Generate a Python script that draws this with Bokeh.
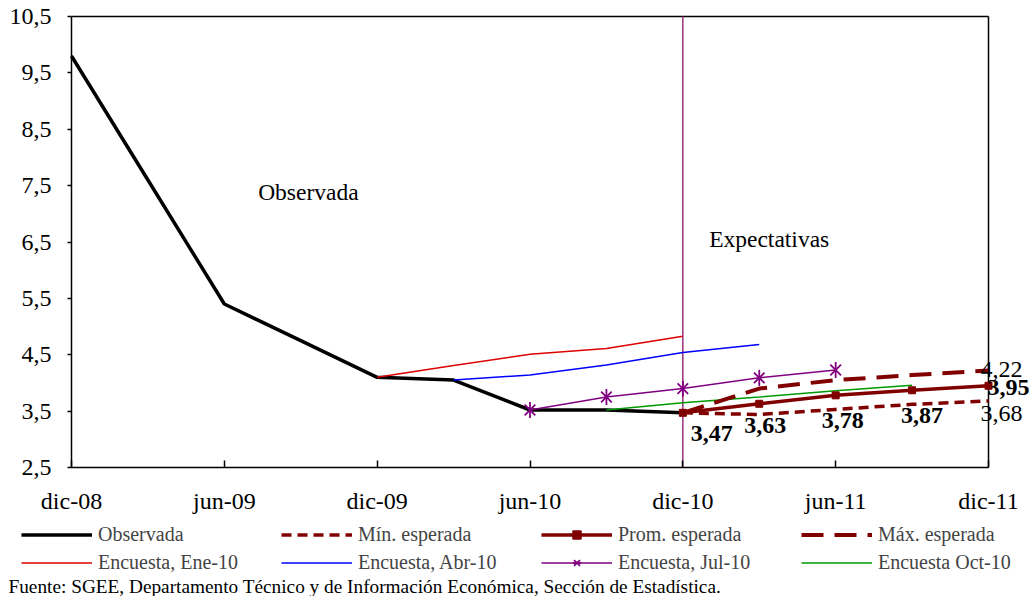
import math
from bokeh.plotting import figure
from bokeh.models import Range1d, FixedTicker, Label, Legend, LegendItem
from bokeh.embed import file_html
from bokeh.resources import INLINE

FONT = "Liberation Serif"

# quarters indexed from dic-08 (0) to dic-11 (12)
x_tick_pos = [0, 2, 4, 6, 8, 10, 12]
x_tick_labels = ["dic-08", "jun-09", "dic-09", "jun-10", "dic-10", "jun-11", "dic-11"]
y_ticks = [2.5, 3.5, 4.5, 5.5, 6.5, 7.5, 8.5, 9.5, 10.5]
y_tick_labels = ["2,5", "3,5", "4,5", "5,5", "6,5", "7,5", "8,5", "9,5", "10,5"]

obs_x = [0, 1, 2, 3, 4, 5, 6, 7, 8]
obs_y = [9.80, 7.60, 5.40, 4.75, 4.10, 4.05, 3.52, 3.52, 3.47]

ene_x = [4, 5, 6, 7, 8]
ene_y = [4.10, 4.31, 4.51, 4.61, 4.83]
abr_x = [5, 6, 7, 8, 9]
abr_y = [4.05, 4.14, 4.32, 4.54, 4.68]
jul_x = [6, 7, 8, 9, 10]
jul_y = [3.52, 3.75, 3.90, 4.09, 4.23]
oct_x = [7, 8, 9, 10, 11]
oct_y = [3.52, 3.65, 3.75, 3.86, 3.96]

exp_x = [8, 9, 10, 11, 12]
prom_y = [3.47, 3.63, 3.78, 3.87, 3.95]
min_y = [3.47, 3.44, 3.53, 3.62, 3.68]
max_y = [3.47, 3.90, 4.05, 4.14, 4.22]

divider_x = 8  # dic-10: start of expectations

footer = "Fuente: SGEE, Departamento Técnico y de Información Económica, Sección de Estadística."

W, H = 1030, 596
# plot box in pixels: x 71..988, y 16..467
PX_L, PX_R, PY_T, PY_B = 71, 988, 16, 467
x0, x1 = x_tick_pos[0], x_tick_pos[-1]
y0, y1 = y_ticks[0], y_ticks[-1]
sx = (PX_R - PX_L) / (x1 - x0)
sy = (PY_B - PY_T) / (y1 - y0)

p = figure(width=W, height=H, output_backend="svg", toolbar_location=None,
           x_range=Range1d(x0 - PX_L / sx, x1 + (W - PX_R) / sx),
           y_range=Range1d(y0 - (H - PY_B) / sy, y1 + PY_T / sy),
           min_border_left=0, min_border_right=0, min_border_top=0, min_border_bottom=0)
p.xgrid.visible = False
p.ygrid.visible = False
p.outline_line_color = None
p.background_fill_color = "white"
p.border_fill_color = "white"

for ax in (p.xaxis[0], p.yaxis[0]):
    ax.axis_line_width = 1.5
    ax.major_tick_line_width = 1.5
    ax.minor_tick_line_color = None
    ax.major_label_text_font = FONT
    ax.major_label_text_font_size = "24px"
    ax.major_label_text_color = "black"

p.xaxis.fixed_location = y0
p.xaxis.bounds = (x0, x1)
p.xaxis.ticker = FixedTicker(ticks=x_tick_pos)
p.xaxis.major_label_overrides = dict(zip(x_tick_pos, x_tick_labels))
p.xaxis.major_tick_in = 7
p.xaxis.major_tick_out = 0
p.xaxis.major_label_standoff = 20

p.yaxis.fixed_location = x0
p.yaxis.bounds = (y0, y1)
p.yaxis.ticker = FixedTicker(ticks=y_ticks)
p.yaxis.major_label_overrides = dict(zip(y_ticks, y_tick_labels))
p.yaxis.major_tick_in = 0
p.yaxis.major_tick_out = 4
p.yaxis.major_label_standoff = 16

# plot box top / right border and the expectations divider
p.segment(x0=[x0, x1], y0=[y1, y0], x1=[x1, x1], y1=[y1, y1], line_color="black", line_width=1.5)
p.segment(x0=[divider_x], y0=[y0], x1=[divider_x], y1=[y1], line_color="#993377", line_width=1.5)

DR = "#800000"
PU = "#800080"
r_obs = p.line(obs_x, obs_y, line_color="black", line_width=3.5)
r_ene = p.line(ene_x, ene_y, line_color="#dd0000", line_width=1.5)
r_abr = p.line(abr_x, abr_y, line_color="#0000ff", line_width=1.5)
r_jul = p.line(jul_x, jul_y, line_color=PU, line_width=1.5)
r_jul_m1 = p.scatter(jul_x, jul_y, marker="x", size=15, line_color=PU, line_width=1.8)
r_jul_m2 = p.scatter(jul_x, jul_y, marker="dash", angle=math.pi / 2, size=16, line_color=PU, line_width=1.8)
r_oct = p.line(oct_x, oct_y, line_color="#009900", line_width=1.5)
r_min = p.line(exp_x, min_y, line_color=DR, line_width=3.5, line_dash="10 6")
r_prom = p.line(exp_x, prom_y, line_color=DR, line_width=3.5)
r_prom_m = p.scatter(exp_x, prom_y, marker="square", size=7, fill_color=DR, line_color=DR)
r_max = p.line(exp_x, max_y, line_color=DR, line_width=4, line_dash="22 11")


def fmt(v):
    return f"{v:.2f}".replace(".", ",")


prom_dx = [29, 6, 7, 10, 20]
prom_dy = [-21, -22, -25, -25, -2]
for xv, yv, dx, dy in zip(exp_x, prom_y, prom_dx, prom_dy):
    p.add_layout(Label(x=xv, y=yv, x_offset=dx, y_offset=dy, text=fmt(yv),
                       text_font=FONT, text_font_size="24px", text_font_style="bold",
                       text_align="center", text_baseline="middle", text_color="black"))
p.add_layout(Label(x=exp_x[-1], y=max_y[-1], x_offset=13, y_offset=1.5, text=fmt(max_y[-1]),
                   text_font=FONT, text_font_size="24px", text_align="center",
                   text_baseline="middle", text_color="black"))
p.add_layout(Label(x=exp_x[-1], y=min_y[-1], x_offset=13, y_offset=-12.5, text=fmt(min_y[-1]),
                   text_font=FONT, text_font_size="24px", text_align="center",
                   text_baseline="middle", text_color="black"))

p.add_layout(Label(x=3.10, y=7.38, text="Observada", text_font=FONT, text_font_size="23.5px",
                   text_align="center", text_baseline="middle", text_color="black"))
p.add_layout(Label(x=9.13, y=6.56, text="Expectativas", text_font=FONT, text_font_size="23.5px",
                   text_align="center", text_baseline="middle", text_color="black"))

p.add_layout(Label(x=8, y=10, x_units="screen", y_units="screen", text=footer,
                   text_font=FONT, text_font_size="19.3px", text_align="left",
                   text_baseline="alphabetic", text_color="black"))

items = [
    LegendItem(label="Observada", renderers=[r_obs]),
    LegendItem(label="Mín. esperada", renderers=[r_min]),
    LegendItem(label="Prom. esperada", renderers=[r_prom, r_prom_m]),
    LegendItem(label="Máx. esperada", renderers=[r_max]),
    LegendItem(label="Encuesta, Ene-10", renderers=[r_ene]),
    LegendItem(label="Encuesta, Abr-10", renderers=[r_abr]),
    LegendItem(label="Encuesta, Jul-10", renderers=[r_jul, r_jul_m1, r_jul_m2]),
    LegendItem(label="Encuesta Oct-10", renderers=[r_oct]),
]
legend = Legend(items=items, location=(21, 22), orientation="horizontal", ncols=4,
                glyph_width=71, glyph_height=21, label_standoff=6, label_width=178,
                label_height=21, spacing=5, padding=0, margin=0,
                border_line_alpha=0, background_fill_alpha=0,
                label_text_font=FONT, label_text_font_size="20px")
p.add_layout(legend)

open("out.html", "w").write(file_html(p, INLINE))
